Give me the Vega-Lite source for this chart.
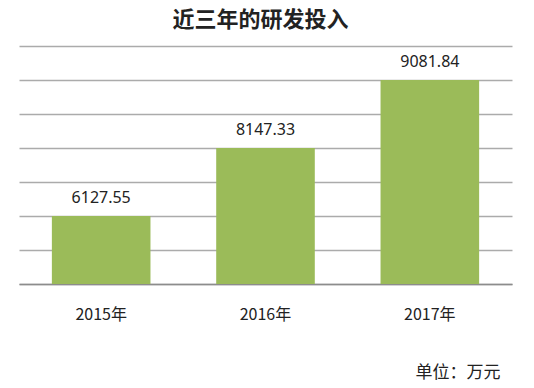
{
  "$schema": "https://vega.github.io/schema/vega-lite/v6.json",
  "width": 493,
  "height": 238,
  "autosize": {"type": "none"},
  "padding": {"left": 19, "top": 46, "right": 22, "bottom": 104},
  "background": "white",
  "title": {
    "text": "近三年的研发投入",
    "anchor": "middle",
    "font": "Noto Sans CJK SC",
    "fontSize": 22,
    "fontWeight": "bold",
    "color": "#222222",
    "offset": 14,
    "dx": -5
  },
  "data": {
    "values": [
      {"year": "2015年", "value": 6127.55},
      {"year": "2016年", "value": 8147.33},
      {"year": "2017年", "value": 9081.84}
    ]
  },
  "encoding": {
    "x": {
      "field": "year",
      "type": "nominal",
      "sort": null,
      "scale": {"paddingInner": 0.4, "paddingOuter": 0.2},
      "axis": {
        "labelAngle": 0,
        "ticks": false,
        "domain": true,
        "domainColor": "#8c8c8c",
        "domainWidth": 1.5,
        "labelPadding": 22,
        "labelFont": "Noto Sans CJK SC",
        "labelFontSize": 16,
        "labelColor": "#222222",
        "title": "单位：万元",
        "titleFont": "Noto Sans CJK SC",
        "titleFontSize": 17,
        "titleFontWeight": "normal",
        "titleColor": "#222222",
        "titleX": 481,
        "titleY": 88,
        "titleAlign": "right",
        "titleBaseline": "middle",
        "titleAnchor": null
      }
    },
    "y": {
      "field": "value",
      "type": "quantitative",
      "scale": {
        "domain": [0, 6127.55, 8147.33, 9081.84, 9549.1],
        "range": [238, 170, 102, 34, 0],
        "nice": false
      },
      "axis": {
        "values": [0, 3063.775, 6127.55, 7137.44, 8147.33, 8614.585, 9081.84, 9549.1],
        "labels": false,
        "ticks": false,
        "domain": false,
        "grid": true,
        "gridColor": "#ababab",
        "gridWidth": 1.5,
        "title": null
      }
    }
  },
  "layer": [
    {"mark": {"type": "bar", "color": "#9BBB59"}},
    {
      "mark": {
        "type": "text",
        "dy": -13,
        "baseline": "alphabetic",
        "align": "center",
        "font": "Noto Sans",
        "fontSize": 16,
        "color": "#222222"
      },
      "encoding": {"text": {"field": "value", "type": "quantitative", "format": ".2f"}}
    }
  ],
  "config": {"view": {"stroke": null}}
}
